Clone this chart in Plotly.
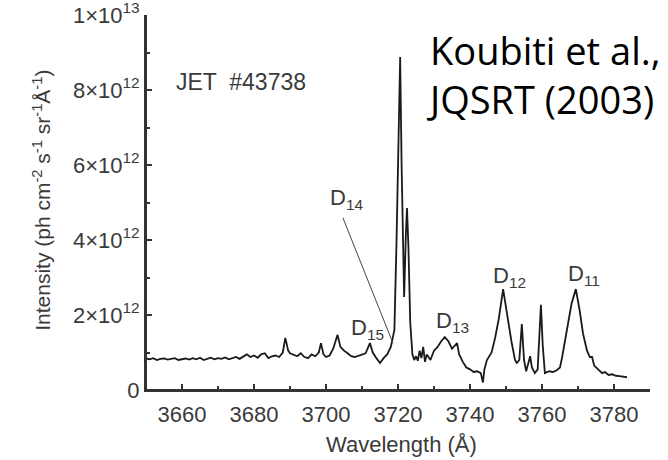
import plotly.graph_objects as go

# Spectrum (wavelength in Å, intensity in units of 1e12)
wavelength = [
    3650, 3651, 3652, 3653, 3654, 3655, 3656, 3657, 3658, 3659,
    3660, 3661, 3662, 3663, 3664, 3665, 3666, 3667, 3668, 3669,
    3670, 3671, 3672, 3673, 3674, 3675, 3676, 3677, 3678, 3679,
    3680, 3681, 3682, 3683, 3684, 3685, 3686, 3687, 3688, 3688.7,
    3689.5, 3690, 3691, 3692, 3693, 3694, 3695, 3696, 3697, 3698,
    3698.6, 3699.3, 3700, 3701, 3702, 3703.2, 3704, 3705, 3706, 3707,
    3708, 3709, 3710, 3711, 3712.2, 3713, 3714, 3715, 3716, 3717,
    3718, 3719, 3719.6, 3720.2, 3720.6, 3721.0, 3721.7, 3722.2, 3722.5, 3722.9,
    3723.4, 3724.0, 3724.5, 3725, 3725.5, 3726, 3726.5, 3727, 3727.5, 3728,
    3729, 3730, 3731, 3732, 3733, 3734, 3735, 3736.4, 3737, 3738,
    3739, 3740, 3741, 3742, 3743, 3743.6, 3744, 3744.7, 3746, 3747,
    3748, 3749.2, 3750.6, 3751.5, 3752.5, 3753, 3753.7, 3754.4, 3755, 3755.6,
    3756.3, 3756.7, 3757.2, 3758, 3758.8, 3759.3, 3759.7, 3760.2, 3760.8, 3762,
    3763, 3764, 3765, 3765.6, 3767.2, 3768.2, 3769.4, 3770.5, 3771.4, 3772.5,
    3773.3, 3773.9, 3774.5, 3775.5, 3776.7, 3777.5, 3778.5, 3779.5, 3780.5, 3781.5,
    3782.5, 3783.6,
]
intensity_e12 = [
    0.84, 0.82, 0.85, 0.80, 0.83, 0.84, 0.81, 0.83, 0.85, 0.80,
    0.82, 0.84, 0.81, 0.85, 0.82, 0.86, 0.80, 0.84, 0.86, 0.82,
    0.85, 0.83, 0.87, 0.82, 0.84, 0.88, 0.83, 0.90, 0.95, 0.88,
    0.92, 0.86, 0.95, 0.98, 0.85, 0.90, 0.92, 0.88, 1.00, 1.39,
    1.05, 0.98, 0.95, 0.90, 0.98, 0.88, 0.85, 0.95, 0.90, 1.00,
    1.25, 0.95, 0.88, 0.92, 1.10, 1.47, 1.15, 1.05, 0.98, 0.90,
    0.88, 0.92, 0.95, 0.98, 1.25, 1.00, 0.85, 0.72, 0.85, 0.95,
    1.15, 1.60, 4.00, 7.50, 8.88, 6.00, 2.48, 4.20, 4.85, 3.80,
    1.80, 0.95, 0.80, 0.90, 0.78, 1.05, 0.85, 1.15, 0.75, 0.95,
    0.80, 1.05, 1.15, 1.30, 1.41, 1.30, 1.10, 1.25, 0.95, 0.75,
    0.60, 0.55, 0.48, 0.50, 0.45, 0.20, 0.55, 0.80, 1.00, 1.40,
    1.90, 2.69, 1.80, 1.30, 0.80, 0.72, 0.80, 1.76, 0.80, 0.50,
    0.75, 0.90, 0.60, 0.45, 0.55, 1.50, 2.27, 1.20, 0.45, 0.50,
    0.48, 0.52, 0.60, 0.88, 1.80, 2.30, 2.69, 2.10, 1.50, 1.05,
    0.88, 0.88, 0.65, 0.55, 0.45, 0.48, 0.40, 0.42, 0.38, 0.37,
    0.35, 0.34,
]
intensity = [v * 1e12 for v in intensity_e12]

x_tickvals = [3660, 3680, 3700, 3720, 3740, 3760, 3780]
x_ticktext = [str(v) for v in x_tickvals]
y_tickvals = [0, 2e12, 4e12, 6e12, 8e12, 1e13]
y_ticktext = ["0", "2×10<sup>12</sup>", "4×10<sup>12</sup>", "6×10<sup>12</sup>",
              "8×10<sup>12</sup>", "1×10<sup>13</sup>"]

line_labels = ["D<sub>14</sub>", "D<sub>15</sub>", "D<sub>13</sub>", "D<sub>12</sub>", "D<sub>11</sub>"]
label_x = [3705.6, 3711.4, 3735.0, 3751.1, 3771.7]
label_y = [5.1e12, 1.63e12, 1.81e12, 3.01e12, 3.07e12]

axis_col = "#333333"
text_col = "#3a3a3a"
font_family = "Liberation Sans, Arial, sans-serif"

fig = go.Figure()
fig.add_trace(go.Scatter(x=wavelength, y=intensity, mode="lines",
                         line=dict(color="#1a1a1a", width=1.8), showlegend=False,
                         hoverinfo="skip"))

for t, lx, ly in zip(line_labels, label_x, label_y):
    fig.add_annotation(x=lx, y=ly, text=t, showarrow=False,
                       font=dict(family=font_family, size=22, color=text_col))

# D14 pointer line
fig.add_shape(type="line", x0=3704.7, y0=4.59e12, x1=3718.6, y1=1.25e12,
              line=dict(color="#444444", width=1))

# axis lines (left and bottom)
fig.add_shape(type="line", xref="paper", yref="paper", x0=0, y0=0, x1=0, y1=1,
              line=dict(color=axis_col, width=2), layer="above")
fig.add_shape(type="line", xref="paper", yref="paper", x0=0, y0=0, x1=1, y1=0,
              line=dict(color=axis_col, width=2), layer="above")

fig.add_annotation(x=3676.4, y=8.21e12, text="JET  #43738", showarrow=False,
                   font=dict(family=font_family, size=23, color=text_col))

fig.add_annotation(xref="paper", yref="paper", x=0.551, y=0.842,
                   xanchor="left", yanchor="middle",
                   text="Koubiti et al.,<br>JQSRT (2003)", showarrow=False, align="left",
                   font=dict(family="Open Sans, sans-serif", size=38, color="#000000"))

fig.add_annotation(xref="paper", yref="paper", x=-0.208, y=0.505, textangle=-90,
                   xanchor="center", yanchor="middle",
                   text="Intensity (ph cm<sup>-2</sup> s<sup>-1</sup> sr<sup>-1</sup>Å<sup>-1</sup>)",
                   showarrow=False,
                   font=dict(family=font_family, size=21, color=text_col))
fig.add_annotation(xref="paper", yref="paper", x=0.506, y=-0.146,
                   xanchor="center", yanchor="middle",
                   text="Wavelength (Å)", showarrow=False,
                   font=dict(family=font_family, size=22, color=text_col))

fig.update_layout(
    width=668, height=460,
    margin=dict(l=146, r=18, t=15, b=70, autoexpand=False),
    paper_bgcolor="white", plot_bgcolor="white",
    font=dict(family=font_family, size=22, color=text_col),
    xaxis=dict(range=[3650, 3790], tickvals=x_tickvals, ticktext=x_ticktext,
               automargin=False, ticklabeloverflow="allow",
               showgrid=False, zeroline=False, showline=True, linecolor=axis_col,
               linewidth=2, ticks="inside", ticklen=6, tickwidth=1.5, tickcolor=axis_col,
               ticklabelstandoff=4,
               minor=dict(dtick=10, tick0=3650, ticks="inside", ticklen=4,
                          tickwidth=1.5, tickcolor=axis_col, showgrid=False)),
    yaxis=dict(range=[0, 1e13], tickvals=y_tickvals, ticktext=y_ticktext,
               automargin=False, ticklabeloverflow="allow",
               showgrid=False, zeroline=False, showline=True, linecolor=axis_col,
               linewidth=2, ticks="inside", ticklen=6, tickwidth=1.5, tickcolor=axis_col,
               minor=dict(dtick=1e12, tick0=0, ticks="inside", ticklen=4,
                          tickwidth=1.5, tickcolor=axis_col, showgrid=False)),
)

fig.write_html("out.html", config={"displayModeBar": False},
               post_script="document.body.style.margin='0';document.body.style.overflow='hidden';")
